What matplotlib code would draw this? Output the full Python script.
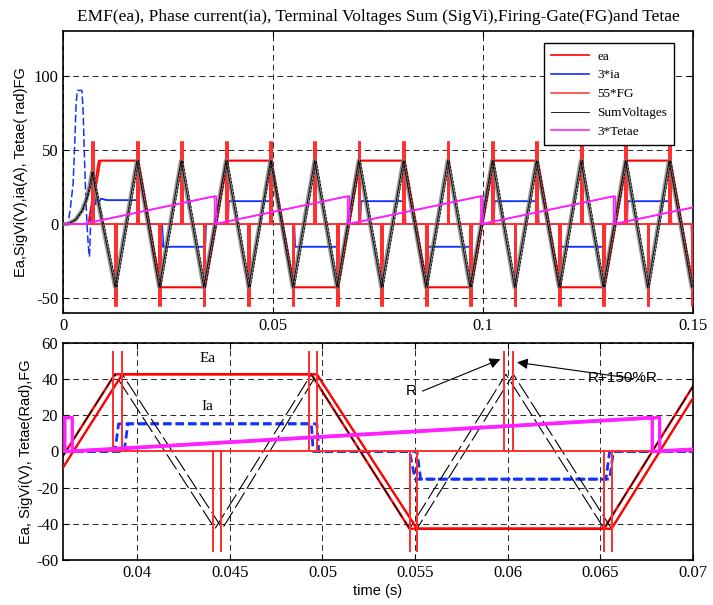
import numpy as np
import matplotlib
matplotlib.use('Agg')
import matplotlib.pyplot as plt

# ──── Data ──────────────────────────────────────────────────────
# two runs overlaid: A = R, B = R+150%R (B lags A slightly)
TIME_RANGE = [0.0, 0.15]

EA_T_A = [0, 0.0060, 0.0085, 0.0176, 0.0229, 0.0335, 0.0388, 0.0494, 0.0547,
          0.0652, 0.0704, 0.0810, 0.0864, 0.0969, 0.1022, 0.1127, 0.1181,
          0.1286, 0.1339, 0.1443, 0.1497, 0.15]
EA_V_A = [0, 0, 42.7, 42.7, -42.7, -42.7, 42.7, 42.7, -42.7,
          -42.7, 42.7, 42.7, -42.7, -42.7, 42.7, 42.7, -42.7,
          -42.7, 42.7, 42.7, -42.7, -42.7]
EA_T_B = [0, 0.0064, 0.0089, 0.0180, 0.0233, 0.0339, 0.0392, 0.0497, 0.0551,
          0.0656, 0.0708, 0.0814, 0.0868, 0.0973, 0.1026, 0.1131, 0.1185,
          0.1290, 0.1343, 0.1447, 0.15]
EA_V_B = [0, 0, 42.7, 42.7, -42.7, -42.7, 42.7, 42.7, -42.7,
          -42.7, 42.7, 42.7, -42.7, -42.7, 42.7, 42.7, -42.7,
          -42.7, 42.7, 42.7, -41.1]

SV_T_A = [0, 0.0012, 0.0030, 0.0045, 0.0056, 0.0063, 0.0069,
          0.0124, 0.0176, 0.0229, 0.0281, 0.0335, 0.0388, 0.0442, 0.0494,
          0.0547, 0.0599, 0.0652, 0.0704, 0.0758, 0.0810, 0.0864, 0.0916,
          0.0969, 0.1022, 0.1075, 0.1127, 0.1181, 0.1233, 0.1286, 0.1339,
          0.1392, 0.1443, 0.1497, 0.15]
SV_V_A = [0, 0, 3, 9, 17, 25, 35,
          -42.7, 42.7, -42.7, 42.7, -42.7, 42.7, -42.7, 42.7,
          -42.7, 42.7, -42.7, 42.7, -42.7, 42.7, -42.7, 42.7,
          -42.7, 42.7, -42.7, 42.7, -42.7, 42.7, -42.7, 42.7,
          -42.7, 42.7, -42.7, -41.2]
SV_T_B = [0, 0.0014, 0.0032, 0.0047, 0.0058, 0.0066, 0.0072,
          0.0128, 0.0180, 0.0233, 0.0285, 0.0339, 0.0392, 0.0446, 0.0497,
          0.0551, 0.0603, 0.0656, 0.0708, 0.0762, 0.0814, 0.0868, 0.0920,
          0.0973, 0.1026, 0.1079, 0.1131, 0.1185, 0.1237, 0.1290, 0.1343,
          0.1396, 0.1447, 0.15]
SV_V_B = [0, 0, 3, 9, 17, 25, 35,
          -42.7, 42.7, -42.7, 42.7, -42.7, 42.7, -42.7, 42.7,
          -42.7, 42.7, -42.7, 42.7, -42.7, 42.7, -42.7, 42.7,
          -42.7, 42.7, -42.7, 42.7, -42.7, 42.7, -42.7, 42.7,
          -42.7, 42.7, -41.1]

# 3*ia start-up transient (dashed in the picture)
IA0_T = [0, 0.0012, 0.0018, 0.0024, 0.0028, 0.0031, 0.0034, 0.0045, 0.0048,
         0.0051, 0.0054, 0.0057, 0.0060, 0.0063, 0.0065, 0.0068, 0.0071,
         0.0074, 0.0077, 0.0080, 0.0085, 0.0090]
IA0_V = [0, 0, 12, 27, 55, 80, 90, 90, 75,
         45, 20, 0, -14, -22, -5, 15, 10,
         22, 12, 18, 14, 17]
IA_T_A = [0.0090, 0.0105, 0.0176, 0.0178, 0.0232, 0.0236, 0.0335, 0.0337,
          0.0388, 0.0390, 0.0494, 0.0495, 0.0547, 0.0550, 0.0653, 0.0655,
          0.0704, 0.0706, 0.0810, 0.0812, 0.0864, 0.0866, 0.0969, 0.0971,
          0.1022, 0.1024, 0.1127, 0.1129, 0.1181, 0.1183, 0.1286, 0.1288,
          0.1339, 0.1341, 0.1443, 0.1445, 0.1496, 0.1498, 0.15]
IA_V_A = [17, 16, 16, 0, 0, -15.3, -15.3, 0,
          0, 15.3, 15.3, 0, 0, -15.3, -15.3, 0,
          0, 15.3, 15.3, 0, 0, -15.3, -15.3, 0,
          0, 15.3, 15.3, 0, 0, -15.3, -15.3, 0,
          0, 15.3, 15.3, 0, 0, -15.3, -15.3]
IA_T_B = [0.0090, 0.0108, 0.0180, 0.0182, 0.0236, 0.0240, 0.0339, 0.0341,
          0.0393, 0.0395, 0.0497, 0.0498, 0.0551, 0.0553, 0.0655, 0.0657,
          0.0708, 0.0710, 0.0814, 0.0816, 0.0868, 0.0870, 0.0973, 0.0975,
          0.1026, 0.1028, 0.1131, 0.1133, 0.1185, 0.1187, 0.1290, 0.1292,
          0.1343, 0.1345, 0.1447, 0.1449, 0.15]
IA_V_B = [17, 16, 16, 0, 0, -15.3, -15.3, 0,
          0, 15.3, 15.3, 0, 0, -15.3, -15.3, 0,
          0, 15.3, 15.3, 0, 0, -15.3, -15.3, 0,
          0, 15.3, 15.3, 0, 0, -15.3, -15.3, 0,
          0, 15.3, 15.3, 0, 0]

# 55*FG gate pulses (times and heights)
FG_T_A = [0.0069, 0.0124, 0.0176, 0.0229, 0.0281, 0.0335, 0.0387, 0.0441,
          0.0493, 0.0547, 0.0598, 0.0652, 0.0704, 0.0758, 0.0810, 0.0864,
          0.0916, 0.0969, 0.1022, 0.1075, 0.1127, 0.1181, 0.1233, 0.1286,
          0.1339, 0.1392, 0.1443, 0.1497]
FG_T_B = [0.0073, 0.0128, 0.0180, 0.0233, 0.0285, 0.0339, 0.0392, 0.0445,
          0.0497, 0.0551, 0.0603, 0.0656, 0.0708, 0.0762, 0.0814, 0.0868,
          0.0920, 0.0973, 0.1026, 0.1079, 0.1131, 0.1185, 0.1237, 0.1290,
          0.1343, 0.1396, 0.1447, 0.1501]
FG_H = [55, -55] * 14

# 3*Tetae sawtooth
TH_T_A = [0, 0.0046, 0.0361, 0.0361, 0.0678, 0.0678, 0.0995, 0.0995,
          0.1311, 0.1311, 0.15]
TH_V_A = [0, 0, 18.8, 0, 18.8, 0, 18.8, 0, 18.8, 0, 11.3]
TH_T_B = [0, 0.0050, 0.0365, 0.0365, 0.0682, 0.0682, 0.0999, 0.0999,
          0.1315, 0.1315, 0.15]
TH_V_B = [0, 0, 18.8, 0, 18.8, 0, 18.8, 0, 18.8, 0, 11.0]

TOP_XTICKS = [0, 0.05, 0.1, 0.15]
TOP_XLABELS = ['0', '0.05', '0.1', '0.15']
TOP_YTICKS = [-50, 0, 50, 100]
BOT_XTICKS = [0.04, 0.045, 0.05, 0.055, 0.06, 0.065, 0.07]
BOT_XLABELS = ['0.04', '0.045', '0.05', '0.055', '0.06', '0.065', '0.07']
BOT_YTICKS = [-60, -40, -20, 0, 20, 40, 60]

SERIF = ['Liberation Serif', 'DejaVu Serif']
SANS = ['Liberation Sans', 'DejaVu Sans']

RED = '#ff0000'
FG_RED = '#ff3030'
BLUE = '#1030ff'
MAG = '#ff20ff'


def fg_series(times, heights, t_range):
    t = [t_range[0]]
    v = [0]
    for ti, h in zip(times, heights):
        if t_range[0] <= ti <= t_range[1]:
            t += [ti, ti, ti]
            v += [0, h, 0]
    t.append(t_range[1])
    v.append(0)
    return t, v


def style_axes(ax, xticks, xlabels, yticks):
    ax.set_xticks(xticks)
    ax.set_xticklabels(xlabels, family=SERIF, fontsize=12)
    ax.set_yticks(yticks)
    ax.set_yticklabels([str(y) for y in yticks], family=SERIF, fontsize=12)
    ax.tick_params(direction='in', top=True, right=True, length=4, width=0.8)
    ax.grid(True, color='k', lw=0.7, ls=(0, (6, 4)), alpha=0.85)
    for s in ax.spines.values():
        s.set_linewidth(1.2)


fig = plt.figure(figsize=(7.13, 6.05), dpi=100)
ax1 = fig.add_axes([0.0884, 0.4826, 0.8836, 0.4661])
ax2 = fig.add_axes([0.0884, 0.0744, 0.8836, 0.3587])

fgA = fg_series(FG_T_A, FG_H, TIME_RANGE)
fgB = fg_series(FG_T_B, FG_H, TIME_RANGE)

# ── top: whole run ──────────────────────────────────────────────
ax1.plot(EA_T_A, EA_V_A, color=RED, lw=1.2, zorder=2, label='ea')
ax1.plot(EA_T_B, EA_V_B, color=RED, lw=1.2, zorder=2)
ax1.plot(IA0_T, IA0_V, color=BLUE, lw=1.1, ls=(0, (5, 2)), zorder=3)
ax1.plot(IA_T_A, IA_V_A, color=BLUE, lw=1.2, zorder=3, label='3*ia')
ax1.plot(IA_T_B, IA_V_B, color=BLUE, lw=1.0, zorder=3)
ax1.plot(*fgA, color=FG_RED, lw=1.1, zorder=4, label='55*FG')
ax1.plot(*fgB, color=FG_RED, lw=1.1, zorder=4)
ax1.plot(SV_T_A, SV_V_A, color='#7a7a7a', lw=3.0, alpha=0.8, zorder=5)
ax1.plot(SV_T_A, SV_V_A, color='k', lw=0.6, zorder=5, label='SumVoltages')
ax1.plot(SV_T_B, SV_V_B, color='k', lw=0.6, ls=(0, (3, 1.5)), zorder=5)
ax1.plot(TH_T_A, TH_V_A, color=MAG, lw=1.2, zorder=6, label='3*Tetae')
ax1.plot(TH_T_B, TH_V_B, color=MAG, lw=1.0, zorder=6)

ax1.set_xlim(*TIME_RANGE)
ax1.set_ylim(-60, 130)
style_axes(ax1, TOP_XTICKS, TOP_XLABELS, TOP_YTICKS)
ax1.set_ylabel('Ea,SigVi(V),ia(A), Tetae( rad)FG', family=SANS, fontsize=10.5,
               labelpad=4)
ax1.set_title('EMF(ea), Phase current(ia), Terminal Voltages Sum (SigVi),'
              'Firing-Gate(FG)and Tetae', family=SERIF, fontsize=12.5, pad=7)
leg = ax1.legend(loc='upper right', bbox_to_anchor=(0.970, 0.957),
                 prop={'family': SERIF, 'size': 9.5}, handlelength=2.9,
                 labelspacing=0.5, borderpad=0.55, handletextpad=0.6,
                 fancybox=False, framealpha=1, edgecolor='k', borderaxespad=0)
leg.get_frame().set_linewidth(1.0)

# ── bottom: zoom on one period ──────────────────────────────────
ax2.plot(EA_T_A, EA_V_A, color=RED, lw=1.7, zorder=2)
ax2.plot(IA_T_A, IA_V_A, color=BLUE, lw=2.0, ls=(0, (3, 1.5)), zorder=3)
ax2.plot(IA_T_B, IA_V_B, color=BLUE, lw=2.0, ls=(0, (3, 1.5)), zorder=3)
ax2.plot(SV_T_A, SV_V_A, color='k', lw=0.8, ls=(0, (16, 4)), zorder=3.5)
ax2.plot(SV_T_B, SV_V_B, color='k', lw=0.8, ls=(6, (16, 4)), zorder=3.5)
ax2.plot(EA_T_B, EA_V_B, color=RED, lw=1.7, zorder=4)
ax2.plot(*fgA, color=FG_RED, lw=1.2, zorder=4)
ax2.plot(*fgB, color=FG_RED, lw=1.2, zorder=4)
ax2.plot(TH_T_A, TH_V_A, color=MAG, lw=2.4, zorder=6)
ax2.plot(TH_T_B, TH_V_B, color=MAG, lw=2.4, zorder=6)

ax2.set_xlim(0.036, 0.07)
ax2.set_ylim(-60, 60)
style_axes(ax2, BOT_XTICKS, BOT_XLABELS, BOT_YTICKS)
ax2.set_ylabel('Ea, SigVi(V), Tetae(Rad),FG', family=SANS, fontsize=10.5,
               labelpad=2)
ax2.set_xlabel('time (s)', family=SANS, fontsize=10.5, labelpad=2)

ax2.text(0.0438, 51.5, 'Ea', family=SERIF, fontsize=11, ha='center', va='center')
ax2.text(0.0438, 24.7, 'Ia', family=SERIF, fontsize=11, ha='center', va='center')
ax2.text(0.0548, 33.4, 'R', family=SANS, fontsize=11, ha='center', va='center')
ax2.text(0.0662, 40.5, 'R+150%R', family=SANS, fontsize=11, ha='center',
         va='center')
arrow = dict(arrowstyle='-|>', color='k', lw=0.8, mutation_scale=16,
             shrinkA=0, shrinkB=0)
ax2.annotate('', xy=(0.0596, 51), xytext=(0.0554, 33.4), arrowprops=arrow)
ax2.annotate('', xy=(0.0605, 49.3), xytext=(0.0668, 40.3), arrowprops=arrow)

fig.savefig('out.png', dpi=100)
